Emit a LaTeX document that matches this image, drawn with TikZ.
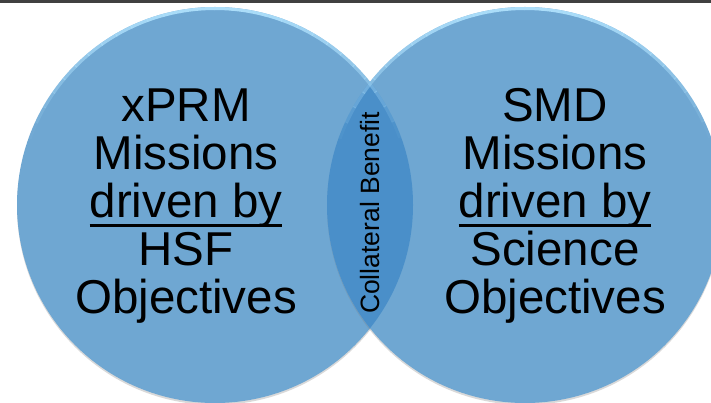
\documentclass[tikz,border=0pt]{standalone}
\usepackage{fontspec}
\setmainfont{Liberation Sans}
\usetikzlibrary{shadows}

\definecolor{vennblue}{RGB}{111,167,210}
\definecolor{lensblue}{RGB}{74,143,201}
\definecolor{rimblue}{RGB}{172,222,250}
\definecolor{bargray}{RGB}{64,64,64}

\newcommand\undl[1]{\setbox0=\hbox{#1}\rlap{\rule[-0.2em]{\wd0}{0.065em}}\box0}
\newcommand\bigtxt{\fontsize{47.5}{48}\selectfont}
\newcommand\lenstxt{\fontsize{26.5}{30}\selectfont}

\begin{document}
\begin{tikzpicture}[x=1pt,y=-1pt,
  venn/.style={circle, fill=vennblue, minimum size=396pt, inner sep=0pt,
    drop shadow={shadow xshift=0pt, shadow yshift=-2pt, opacity=0.3}},
  rim/.style={draw=rimblue, line width=6pt}]

\useasboundingbox (0,0) rectangle (711,403);
\clip (0,0) rectangle (711,403);
\fill[bargray] (0,0) rectangle (711,3);

\node[venn] (xprm) at (215,205) {};
\node[venn] (smd) at (525,205) {};

% overlap of the two circles
\begin{scope}
  \clip (xprm.center) circle[radius=198pt];
  \fill[lensblue] (smd.center) circle[radius=198pt];
\end{scope}

% light rim, strongest at the top
\foreach \c in {xprm,smd}{
  \begin{scope}
    \clip (\c.center) circle[radius=198pt];
    \foreach \a in {20,25,...,155}{
      \pgfmathsetmacro\op{max(0,(sin(\a+2.5)-0.35)/0.65)}
      \draw[rim, opacity=\op] (\c.center) ++(\a:198pt)
        arc[start angle=\a, end angle=\a+5.3, radius=198pt];
    }
  \end{scope}
}

\node[font=\bigtxt, align=center, inner sep=0pt] (xprmtxt) at (186,206)
  {xPRM\\Missions\\\undl{driven by}\\HSF\\Objectives};
\node[font=\bigtxt, align=center, inner sep=0pt] (smdtxt) at (555,206)
  {SMD\\Missions\\\undl{driven by}\\Science\\Objectives};
\node[font=\lenstxt, rotate=90, inner sep=0pt] (benefit) at (370,213) {Collateral Benefit};
\end{tikzpicture}
\end{document}
